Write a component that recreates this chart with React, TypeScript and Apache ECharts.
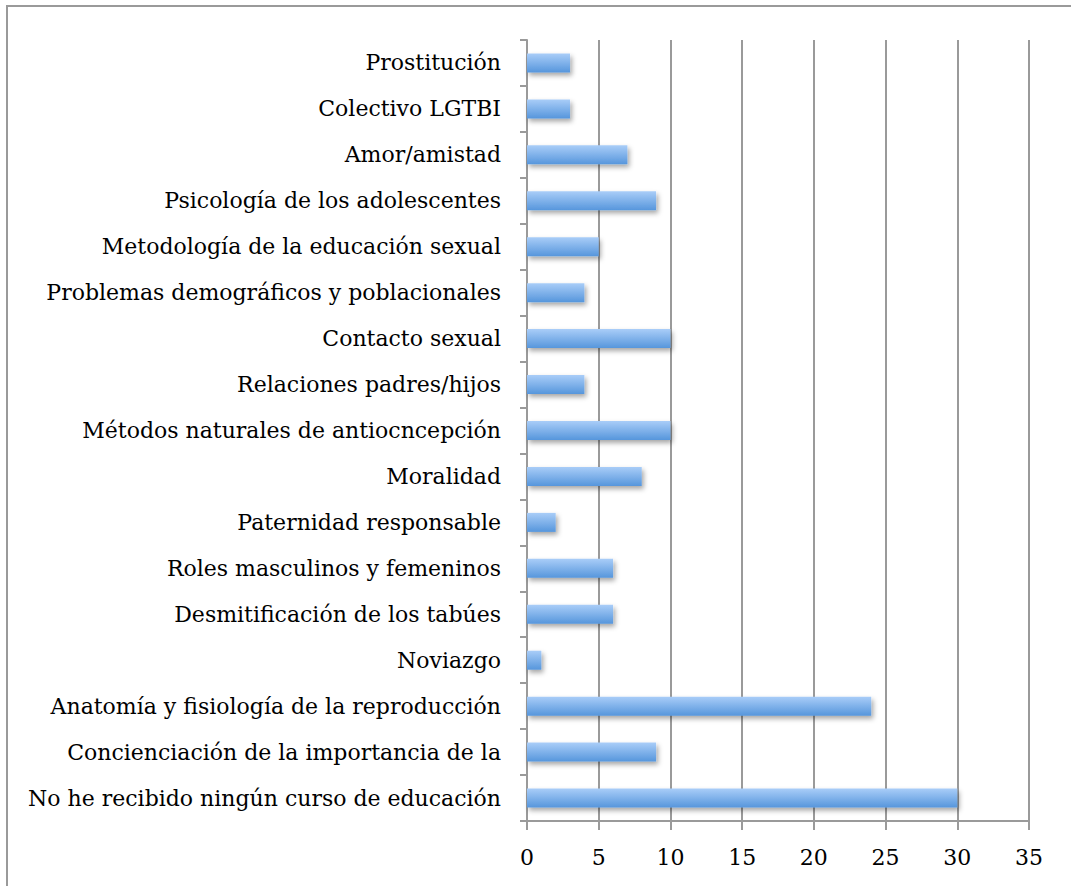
import React, { useEffect, useRef } from "react";
import * as echarts from "echarts";

const categories = [
  "No he recibido ningún curso de educación",
  "Concienciación de la importancia de la",
  "Anatomía y fisiología de la reproducción",
  "Noviazgo",
  "Desmitificación de los tabúes",
  "Roles masculinos y femeninos",
  "Paternidad responsable",
  "Moralidad",
  "Métodos naturales de antiocncepción",
  "Relaciones padres/hijos",
  "Contacto sexual",
  "Problemas demográficos y poblacionales",
  "Metodología de la educación sexual",
  "Psicología de los adolescentes",
  "Amor/amistad",
  "Colectivo LGTBI",
  "Prostitución",
];

const values = [30, 9, 24, 1, 6, 6, 2, 8, 10, 4, 10, 4, 5, 9, 7, 3, 3];

const xTicks = [0, 5, 10, 15, 20, 25, 30, 35];

export default function App() {
  const ref = useRef<HTMLDivElement>(null);
  useEffect(() => {
    document.body.style.margin = "0";
    const chart = echarts.init(ref.current!, undefined, { renderer: "svg" });
    const font = "'DejaVu Serif', serif";
    chart.setOption({
      animation: false,
      backgroundColor: "#ffffff",
      graphic: [
        {
          type: "rect",
          shape: { x: 7, y: 6, width: 1080, height: 900 },
          style: { fill: "none", stroke: "#9a9a9a", lineWidth: 2 },
          silent: true,
        },
      ],
      grid: { left: 527, right: 42, top: 40, bottom: 65, containLabel: false },
      xAxis: {
        type: "value",
        min: xTicks[0],
        max: xTicks[xTicks.length - 1],
        interval: 5,
        axisLine: { show: true, lineStyle: { color: "#9a9a9a", width: 2 } },
        axisTick: { show: true, length: 9, lineStyle: { color: "#9a9a9a", width: 2 } },
        splitLine: { show: true, lineStyle: { color: "#9a9a9a", width: 2 } },
        axisLabel: { color: "#000", fontFamily: font, fontSize: 22, margin: 25 },
      },
      yAxis: {
        type: "category",
        data: categories,
        axisLine: { show: true, lineStyle: { color: "#9a9a9a", width: 2 } },
        axisTick: { show: true, length: 7, lineStyle: { color: "#9a9a9a", width: 2 } },
        splitLine: { show: false },
        axisLabel: {
          color: "#000",
          fontFamily: font,
          fontSize: 22,
          margin: 26,
          padding: [4, 0, 0, 0],
        },
      },
      series: [
        {
          type: "bar",
          data: values,
          barWidth: 19,
          itemStyle: {
            color: new echarts.graphic.LinearGradient(0, 0, 0, 1, [
              { offset: 0, color: "#a9cdf8" },
              { offset: 1, color: "#5696dc" },
            ]),
            shadowColor: "rgba(0,0,0,0.35)",
            shadowBlur: 5,
            shadowOffsetX: 2,
            shadowOffsetY: 3,
          },
        },
      ],
    });
    return () => chart.dispose();
  }, []);
  return (
    <div
      ref={ref}
      style={{ position: "absolute", left: 0, top: 0, width: 1071, height: 886 }}
    />
  );
}
